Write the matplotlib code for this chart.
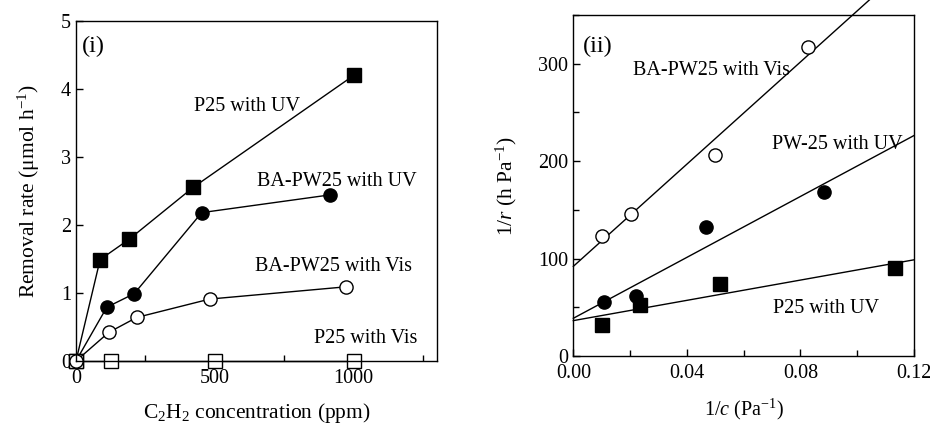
import numpy as np
import matplotlib
matplotlib.use("Agg")
import matplotlib.pyplot as plt
from matplotlib.ticker import MultipleLocator

plt.rcParams['font.family'] = ['Liberation Serif', 'DejaVu Serif']
plt.rcParams['mathtext.fontset'] = 'custom'
plt.rcParams['mathtext.rm'] = 'Liberation Serif'
plt.rcParams['mathtext.it'] = 'Liberation Serif:italic'

# (i) removal rate vs C2H2 concentration
p25_uv_x = [0, 87, 192, 422, 1002]
p25_uv_y = [0, 1.49, 1.79, 2.55, 4.20]
bapw_uv_x = [0, 111, 210, 453, 914]
bapw_uv_y = [0, 0.79, 0.99, 2.18, 2.44]
bapw_vis_x = [0, 118, 219, 482, 973]
bapw_vis_y = [0, 0.42, 0.64, 0.91, 1.09]
p25_vis_x = [0, 126, 501, 1000]
p25_vis_y = [0, 0, 0, 0]

# (ii) 1/r vs 1/c
inv_c_vis = [0.0100, 0.0202, 0.0499, 0.0828]
inv_r_vis = [122.7, 145.7, 206.0, 317.5]
inv_c_uv = [0.0109, 0.0220, 0.0467, 0.0883]
inv_r_uv = [55.2, 62.0, 132.3, 168.3]
inv_c_p25 = [0.0100, 0.0236, 0.0515, 0.1133]
inv_r_p25 = [31.9, 52.1, 74.0, 89.8]
# fitted lines (intercept, slope)
fit_vis = (92.0, 2622.0)
fit_uv = (38.7, 1563.0)
fit_p25 = (36.3, 520.0)

fs = 14.5
lfs = 15.5
fig = plt.figure(figsize=(9.3, 4.25), dpi=100)

ax1 = fig.add_axes([0.0817, 0.1506, 0.388, 0.8007])
ms = 9.5
ax1.plot(p25_uv_x, p25_uv_y, '-s', color='k', mfc='k', ms=ms, lw=1)
ax1.plot(bapw_uv_x, bapw_uv_y, '-o', color='k', mfc='k', ms=ms, lw=1)
ax1.plot(p25_vis_x, p25_vis_y, '-s', color='k', mfc='white', ms=ms, lw=1)
ax1.plot(bapw_vis_x, bapw_vis_y, '-o', color='k', mfc='white', ms=ms, lw=1)
ax1.set_xlim(0, 1300)
ax1.set_ylim(0, 5)
ax1.xaxis.set_major_locator(MultipleLocator(500))
ax1.xaxis.set_minor_locator(MultipleLocator(250))
ax1.yaxis.set_major_locator(MultipleLocator(1))
ax1.set_ylabel(r'Removal rate ($\mathregular{\mu}$mol h$^{-1}$)', fontsize=lfs, labelpad=14)
ax1.set_xlabel(r'C$_2$H$_2$ concentration (ppm)', fontsize=lfs, labelpad=9)
ax1.text(424, 3.74, 'P25 with UV', fontsize=fs, va='center')
ax1.text(653, 2.63, 'BA-PW25 with UV', fontsize=fs, va='center')
ax1.text(645, 1.39, 'BA-PW25 with Vis', fontsize=fs, va='center')
ax1.text(858, 0.33, 'P25 with Vis', fontsize=fs, va='center')
ax1.text(20, 4.62, '(i)', fontsize=fs + 3, va='center')

ax2 = fig.add_axes([0.6165, 0.1624, 0.3663, 0.8024])
xx = np.array([0, 0.12])
for (b, m) in [fit_vis, fit_uv, fit_p25]:
    ax2.plot(xx, b + m * xx, color='k', lw=1)
ax2.plot(inv_c_vis, inv_r_vis, 'o', color='k', mfc='white', ms=ms, ls='none')
ax2.plot(inv_c_uv, inv_r_uv, 'o', color='k', mfc='k', ms=ms, ls='none')
ax2.plot(inv_c_p25, inv_r_p25, 's', color='k', mfc='k', ms=ms, ls='none')
ax2.set_xlim(0, 0.12)
ax2.set_ylim(0, 350)
ax2.xaxis.set_major_locator(MultipleLocator(0.04))
ax2.xaxis.set_minor_locator(MultipleLocator(0.02))
ax2.yaxis.set_major_locator(MultipleLocator(100))
ax2.yaxis.set_minor_locator(MultipleLocator(50))
ax2.xaxis.set_major_formatter(plt.FuncFormatter(lambda v, p: '%.2f' % v))
ax2.set_ylabel(r'1/$r$ (h Pa$^{-1}$)', fontsize=lfs, labelpad=14)
ax2.set_xlabel(r'1/$c$ (Pa$^{-1}$)', fontsize=fs, labelpad=10)
ax2.text(0.0211, 293.5, 'BA-PW25 with Vis', fontsize=fs, va='center')
ax2.text(0.0699, 217, 'PW-25 with UV', fontsize=fs, va='center')
ax2.text(0.0705, 49, 'P25 with UV', fontsize=fs, va='center')
ax2.text(0.0033, 318, '(ii)', fontsize=fs + 3, va='center')

for ax in (ax1, ax2):
    ax.tick_params(which='both', direction='in', labelsize=fs, width=1)
    ax.tick_params(which='major', length=5)
    ax.tick_params(which='minor', length=4)
    ax.tick_params(axis='x', pad=6)
    for s in ax.spines.values():
        s.set_linewidth(1)
    for m in ax.lines:
        m.set_clip_on(False)

fig.savefig('out.png', dpi=100)
